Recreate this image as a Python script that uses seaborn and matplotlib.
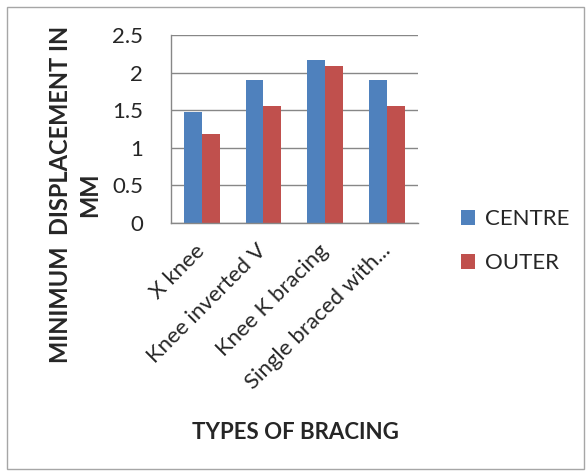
import pandas as pd
import matplotlib.pyplot as plt
import seaborn as sns
from matplotlib.patches import Rectangle

categories = ["X knee", "Knee inverted V", "Knee K bracing", "Single braced with..."]
centre = [1.48, 1.90, 2.17, 1.90]
outer = [1.18, 1.55, 2.09, 1.55]
series = ["CENTRE", "OUTER"]

df = pd.DataFrame({
    "bracing": categories * 2,
    "disp": centre + outer,
    "series": [series[0]] * 4 + [series[1]] * 4,
})

sns.set_style("white")
plt.rcParams["font.family"] = ["Lato", "DejaVu Sans"]

fig = plt.figure(figsize=(5.87, 4.73), dpi=100)
fig.patches.append(Rectangle((0.012, 0.008), 0.983, 0.977, transform=fig.transFigure,
                             fill=False, edgecolor="#a6a6a6", linewidth=1))
ax = fig.add_axes([0.291, 0.529, 0.421, 0.397])

sns.barplot(data=df, x="bracing", y="disp", hue="series", ax=ax,
            palette=["#4F81BD", "#C0504D"], width=0.58, saturation=1,
            linewidth=0, legend=True)

ax.set_ylim(0, 2.5)
ax.set_yticks([0, 0.5, 1, 1.5, 2, 2.5])
ax.set_yticklabels(["0", "0.5", "1", "1.5", "2", "2.5"], fontsize=16)
ax.yaxis.grid(True, color="#878787", linewidth=1)
ax.set_axisbelow(True)
ax.set_xlim(-0.5, 3.5)
ax.set_xticks(range(4))
ax.set_xticklabels(categories, rotation=45, ha="right", va="center",
                   rotation_mode="anchor", fontsize=16)
ax.set_xticks([-0.5, 0.5, 1.5, 2.5, 3.5], minor=True)
ax.tick_params(axis="x", which="major", length=0, pad=18)
ax.tick_params(axis="x", which="minor", length=6, color="#878787", width=1, direction="out")
ax.tick_params(axis="y", length=5, color="#878787", width=1, direction="out", pad=15)

for s in ["top", "right"]:
    ax.spines[s].set_visible(False)
for s in ["left", "bottom"]:
    ax.spines[s].set_color("#878787")
    ax.spines[s].set_linewidth(1)

ax.set_ylabel("")
ax.set_xlabel("")
fig.text(0.128, 0.588, "MINIMUM  DISPLACEMENT IN\nMM", fontsize=17, fontweight="bold",
         rotation=90, ha="center", va="center", multialignment="center", linespacing=1.3)
fig.text(0.503, 0.085, "TYPES OF BRACING", fontsize=16, fontweight="bold",
         ha="center", va="center")

handles, labels = ax.get_legend_handles_labels()
ax.legend(handles, labels, loc="center left", bbox_to_anchor=(0.766, 0.49),
          bbox_transform=fig.transFigure, frameon=False, fontsize=16, borderpad=0,
          labelspacing=1.1, handlelength=0.64, handleheight=0.64, handletextpad=0.45)

fig.savefig("out.png", dpi=100)
